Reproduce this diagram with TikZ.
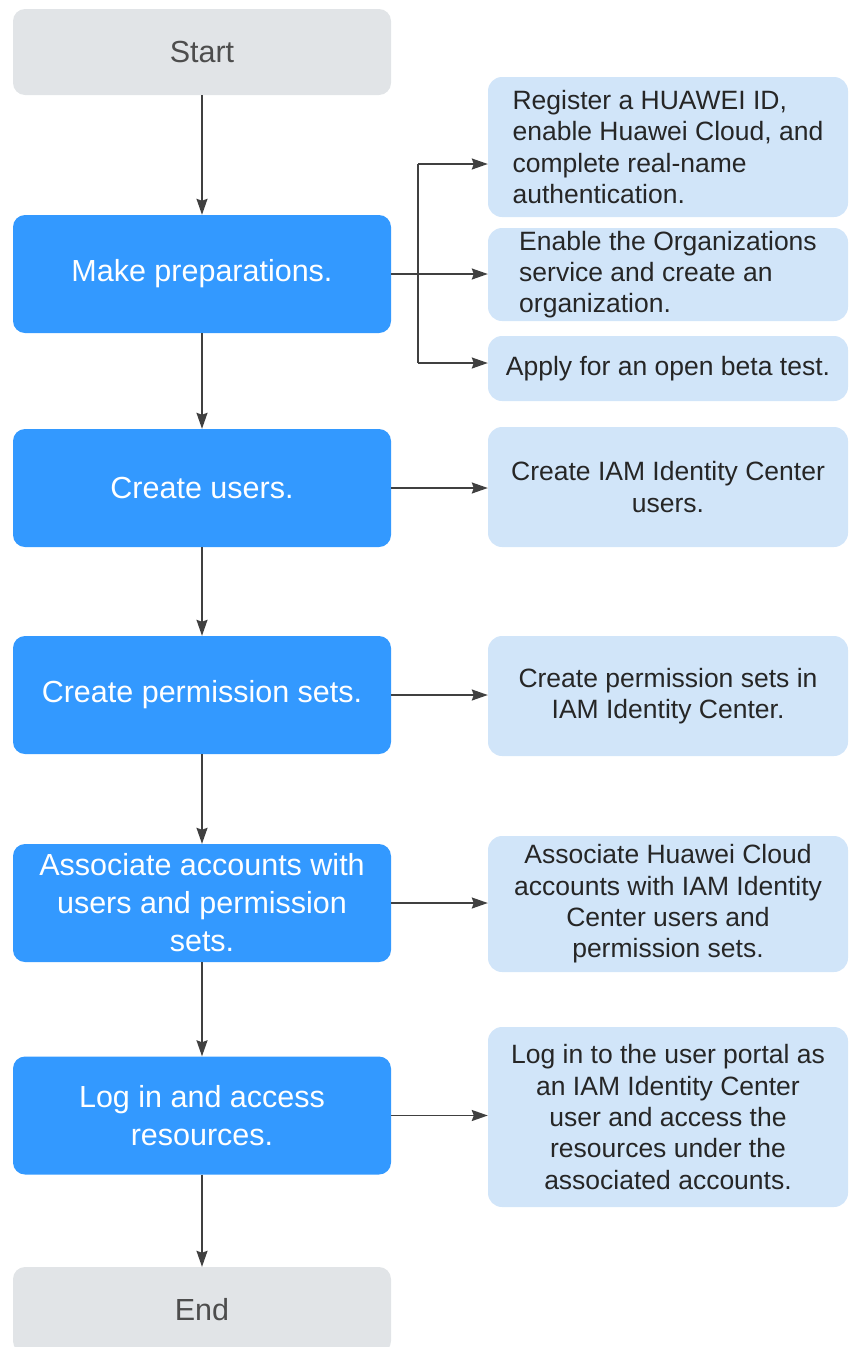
\documentclass[tikz,border=0pt]{standalone}
\usepackage{fontspec}
\setmainfont{Liberation Sans}
\usetikzlibrary{arrows.meta}

\definecolor{stepblue}{RGB}{51,153,255}
\definecolor{noteblue}{RGB}{209,229,249}
\definecolor{endgray}{RGB}{225,228,231}
\definecolor{endtext}{RGB}{77,77,77}
\definecolor{notetext}{RGB}{38,38,38}
\definecolor{linegray}{RGB}{64,64,64}

\begin{document}
\begin{tikzpicture}[x=1pt, y=-1pt,
    endbox/.style={rectangle, rounded corners=12pt, fill=endgray, text=endtext, inner sep=0pt,
        minimum width=378pt, minimum height=86pt, font=\fontsize{30.5}{38}\selectfont},
    stepbox/.style={rectangle, rounded corners=12pt, fill=stepblue, text=white, inner sep=0pt,
        minimum width=378pt, minimum height=118pt, align=center, font=\fontsize{30.5}{38}\selectfont},
    notebox/.style={rectangle, rounded corners=14pt, fill=noteblue, text=notetext, inner sep=0pt,
        minimum width=360pt, align=center, font=\fontsize{26.5}{31.3}\selectfont},
    flow/.style={-{Stealth[length=16pt,width=11pt,inset=2pt]}, line width=1.8pt, draw=linegray}]
    \def\xL{202}
    \def\xR{668}

    \useasboundingbox (0,0) rectangle (849,1347);

    % main steps
    \node[endbox]  (start)  at (\xL, 52)    {Start};
    \node[stepbox] (prep)   at (\xL, 274)   {Make preparations.};
    \node[stepbox] (users)  at (\xL, 488)   {Create users.};
    \node[stepbox] (perms)  at (\xL, 695)   {Create permission sets.};
    \node[stepbox] (assoc)  at (\xL, 903)   {Associate accounts with\\users and permission\\sets.};
    \node[stepbox] (login)  at (\xL, 1115.5) {Log in and access\\resources.};
    \node[endbox]  (end)    at (\xL, 1310)  {End};

    % details
    \node[notebox, minimum height=140pt, align=left] (reg) at (\xR, 147)
        {Register a HUAWEI ID,\\enable Huawei Cloud, and\\complete real-name\\authentication.};
    \node[notebox, minimum height=93pt, align=left] (org) at (\xR, 274.5)
        {Enable the Organizations\\service and create an\\organization.};
    \node[notebox, minimum height=65pt] (beta) at (\xR, 368.5) {Apply for an open beta test.};
    \node[notebox, minimum height=120pt] (iamusers) at (\xR, 487)
        {Create IAM Identity Center\\users.};
    \node[notebox, minimum height=120pt] (iamperms) at (\xR, 696)
        {Create permission sets in\\IAM Identity Center.};
    \node[notebox, minimum height=136pt] (assocacc) at (\xR, 904)
        {Associate Huawei Cloud\\accounts with IAM Identity\\Center users and\\permission sets.};
    \node[notebox, minimum height=180pt] (portal) at (\xR, 1117)
        {Log in to the user portal as\\an IAM Identity Center\\user and access the\\resources under the\\associated accounts.};

    \draw[flow] (start) -- (prep);
    \draw[flow] (prep) -- (users);
    \draw[flow] (users) -- (perms);
    \draw[flow] (perms) -- (assoc);
    \draw[flow] (assoc) -- (login);
    \draw[flow] (login) -- (end);

    % branch of the preparations
    \coordinate (br1) at (418, 164);
    \coordinate (br3) at (418, 363);
    \draw[line width=1.8pt, draw=linegray] (br1) -- (br3);
    \draw[flow] (br1) -- (br1 -| reg.west);
    \draw[flow] (prep.east) -- (prep.east -| org.west);
    \draw[flow] (br3) -- (br3 -| beta.west);

    \draw[flow] (users.east) -- (users.east -| iamusers.west);
    \draw[flow] (perms.east) -- (perms.east -| iamperms.west);
    \draw[flow] (assoc.east) -- (assoc.east -| assocacc.west);
    \draw[flow] (login.east) -- (login.east -| portal.west);
\end{tikzpicture}
\end{document}
